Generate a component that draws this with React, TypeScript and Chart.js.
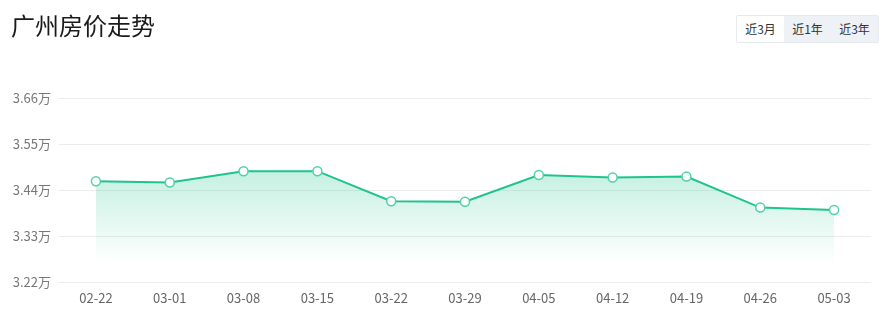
import React, { useEffect, useRef } from "react";
import { Chart, registerables } from "chart.js";

Chart.register(...registerables);

const categories = ["02-22", "03-01", "03-08", "03-15", "03-22", "03-29", "04-05", "04-12", "04-19", "04-26", "05-03"];
const prices = [3.461, 3.458, 3.485, 3.485, 3.413, 3.412, 3.476, 3.470, 3.472, 3.398, 3.392];
const yTicks = [3.22, 3.33, 3.44, 3.55, 3.66];
const rangeButtons = ["近3月", "近1年", "近3年"];

const FONT = '"Noto Sans CJK SC", "Noto Sans", sans-serif';
const GREEN = "rgb(31,196,141)";

export default function App() {
  const ref = useRef<HTMLCanvasElement | null>(null);

  useEffect(() => {
    document.body.style.margin = "0";
    const canvas = ref.current;
    if (!canvas) return;
    const chart = new Chart(canvas, {
      type: "line",
      data: {
        labels: categories,
        datasets: [
          {
            data: prices,
            borderColor: GREEN,
            borderWidth: 2,
            tension: 0,
            pointRadius: 4.5,
            pointBorderWidth: 1.5,
            pointBackgroundColor: "#ffffff",
            pointBorderColor: "rgb(80,210,165)",
            fill: "start",
            backgroundColor: (ctx: any) => {
              const c = ctx.chart;
              const area = c.chartArea;
              if (!area) return "rgba(31,196,141,0.2)";
              const y = c.scales.y;
              const top = y.getPixelForValue(Math.max(...prices));
              const g = c.ctx.createLinearGradient(0, top, 0, 264);
              g.addColorStop(0, "rgba(31,196,141,0.26)");
              g.addColorStop(1, "rgba(31,196,141,0)");
              return g;
            },
          },
        ],
      },
      options: {
        animation: false,
        responsive: false,
        maintainAspectRatio: false,
        layout: { padding: { top: 98, right: 19, left: 0, bottom: 0 } },
        plugins: { legend: { display: false }, tooltip: { enabled: false } },
        scales: {
          x: {
            offset: true,
            grid: { display: false, drawTicks: false },
            border: { display: false },
            ticks: { color: "#666", font: { family: FONT, size: 13 }, padding: 8, maxRotation: 0, autoSkip: false },
            afterFit: (s: any) => {
              s.height = 50;
            },
          },
          y: {
            min: 3.22,
            max: 3.66,
            grid: { color: "#ececec", lineWidth: 1, drawTicks: false },
            border: { display: false },
            afterBuildTicks: (s: any) => {
              s.ticks = yTicks.map((v) => ({ value: v }));
            },
            ticks: {
              color: "#777",
              font: { family: FONT, size: 13 },
              padding: 8,
              callback: (v: any) => Number(v).toFixed(2) + "万",
            },
            afterFit: (s: any) => {
              s.width = 59;
            },
          },
        },
      },
    });
    return () => chart.destroy();
  }, []);

  return (
    <div style={{ position: "relative", width: 890, height: 332, background: "#fff", fontFamily: FONT }}>
      <canvas ref={ref} width={890} height={332} style={{ position: "absolute", left: 0, top: 0 }} />
      <div style={{ position: "absolute", left: 11, top: 7, fontSize: 24, color: "#1a1a1a", lineHeight: "36px" }}>广州房价走势</div>
      <div
        style={{
          position: "absolute",
          left: 736,
          top: 15,
          height: 26,
          display: "flex",
          background: "#eef1f5",
          border: "1px solid #e6e9ee",
          borderRadius: 2,
        }}
      >
        {rangeButtons.map((b, i) => (
          <div
            key={b}
            style={{
              width: 47,
              height: 26,
              lineHeight: "26px",
              textAlign: "center",
              fontSize: 12,
              color: "#333",
              background: i === 0 ? "#fff" : "transparent",
            }}
          >
            {b}
          </div>
        ))}
      </div>
    </div>
  );
}
